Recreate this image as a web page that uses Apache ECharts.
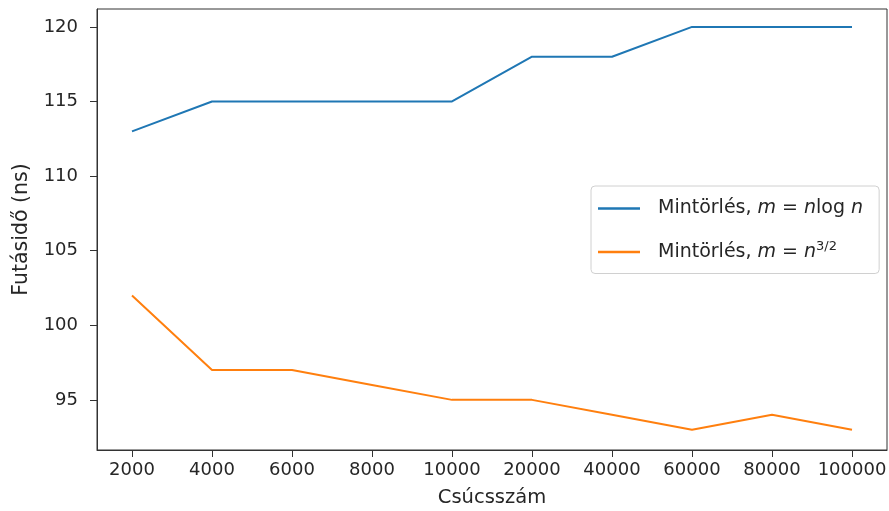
<!DOCTYPE html>
<html><head><meta charset="utf-8">
<script src="https://cdn.jsdelivr.net/npm/echarts@6/dist/echarts.min.js"></script>
<style>html,body{margin:0;padding:0;background:#fff}#c{width:889px;height:511px}</style>
</head><body><div id="c"></div>
<script>
var categories = ['2000','4000','6000','8000','10000','20000','40000','60000','80000','100000'];
var seriesNames = ['nlogn', 'n32'];
var valuesNlogN = [113,115,115,115,115,118,118,120,120,120];
var valuesN32 = [102,97,97,96,95,95,94,93,94,93];
var yTicks = [95,100,105,110,115,120];
var xTickIdx = categories.map(function(_, i){ return i; });

var font = 'DejaVu Sans';
var chart = echarts.init(document.getElementById('c'));
function pts(arr){ return arr.map(function(v,i){ return [i, v]; }); }
chart.setOption({
  animation: false,
  textStyle: {fontFamily: font},
  grid: {left: 97, right: 2, top: 9, bottom: 61, show: true, borderColor: '#333', borderWidth: 1,
    containLabel: false, outerBoundsMode: 'none'},
  xAxis: {
    type: 'value', min: -0.4375, max: 9.4375,
    name: 'Csúcsszám', nameLocation: 'middle', nameGap: 38,
    nameTextStyle: {fontFamily: font, fontSize: 19.5, color: '#262626'},
    axisLine: {show: true, onZero: false, lineStyle: {color: '#333', width: 1}},
    axisTick: {show: true, length: 7, customValues: xTickIdx, lineStyle: {color: '#333'}},
    axisLabel: {customValues: xTickIdx, margin: 11, fontFamily: font, fontSize: 18, color: '#262626',
      formatter: function(v){ return categories[Math.round(v)]; }},
    splitLine: {show: false}
  },
  yAxis: {
    type: 'value', min: 91.64, max: 121.2,
    name: 'Futásidő (ns)', nameLocation: 'middle', nameGap: 65, nameRotate: 90,
    nameTextStyle: {fontFamily: font, fontSize: 20.5, color: '#262626'},
    axisLine: {show: true, onZero: false, lineStyle: {color: '#333', width: 1}},
    axisTick: {show: true, length: 7, customValues: yTicks, lineStyle: {color: '#333'}},
    axisLabel: {customValues: yTicks, margin: 19, fontFamily: font, fontSize: 18, color: '#262626'},
    splitLine: {show: false}
  },
  legend: {
    orient: 'vertical', left: 591, top: 186,
    padding: [13, 16, 12, 7], itemGap: 22, itemWidth: 42, itemHeight: 2.5, icon: 'rect',
    backgroundColor: '#fff', borderColor: '#d0d0d0', borderWidth: 1, borderRadius: 4,
    data: seriesNames,
    textStyle: {
      fontFamily: font, fontSize: 19, color: '#262626', padding: [0,0,0,13],
      rich: {
        n: {fontFamily: font, fontSize: 19, color: '#262626'},
        i: {fontFamily: font, fontSize: 19, fontStyle: 'italic', color: '#262626'},
        s: {fontFamily: font, fontSize: 13, color: '#262626', padding: [0,0,11,0]}
      }
    },
    formatter: function(name){
      if (name === 'nlogn') return '{n|Mintörlés, }{i|m}{n| = }{i|n}{n|log }{i|n}';
      return '{n|Mintörlés, }{i|m}{n| = }{i|n}{s|3/2}';
    }
  },
  series: [
    {name: 'nlogn', type: 'line', data: pts(valuesNlogN), symbol: 'none', color: '#1f77b4', lineStyle: {width: 2}},
    {name: 'n32', type: 'line', data: pts(valuesN32), symbol: 'none', color: '#ff7f0e', lineStyle: {width: 2}}
  ]
});
</script></body></html>
